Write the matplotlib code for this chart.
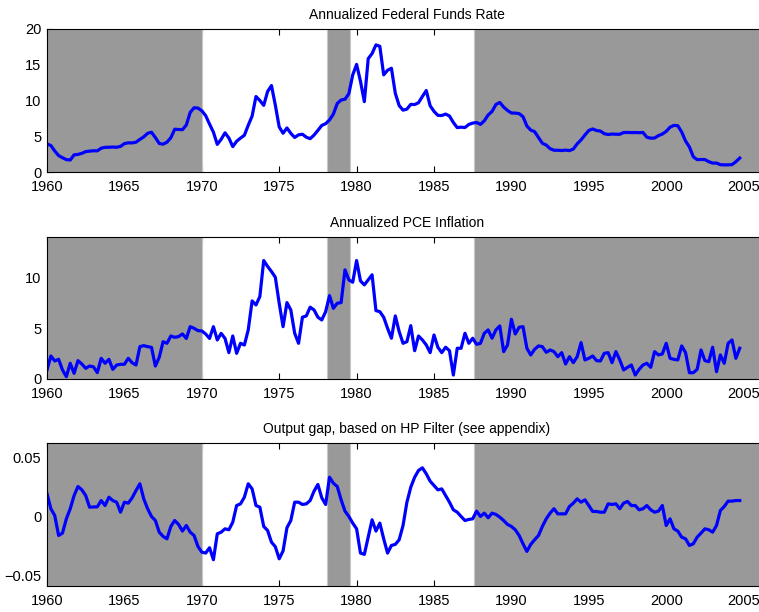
import numpy as np
import matplotlib
matplotlib.use('Agg')
import matplotlib.pyplot as plt

plt.rcParams['font.family'] = ['Liberation Sans', 'DejaVu Sans']

# quarterly data, 1960Q1 .. 2004Q4
start_year = 1960
n_quarters = 180

fed_funds = [
    3.93, 3.70, 2.94, 2.30, 2.00, 1.73, 1.68, 2.40, 2.46, 2.61, 2.85, 2.92,
    2.97, 2.96, 3.33, 3.45, 3.46, 3.49, 3.46, 3.58, 3.97, 4.08, 4.07, 4.17,
    4.56, 4.91, 5.41, 5.56, 4.82, 3.99, 3.89, 4.17, 4.79, 5.98, 5.94, 5.92,
    6.57, 8.33, 8.98, 8.94, 8.57, 7.88, 6.70, 5.57, 3.86, 4.57, 5.48, 4.75,
    3.55, 4.30, 4.74, 5.14, 6.54, 7.82, 10.56, 10.00, 9.32, 11.25, 12.09, 9.35,
    6.30, 5.42, 6.16, 5.41, 4.83, 5.20, 5.28, 4.87, 4.66, 5.16, 5.82, 6.51,
    6.76, 7.28, 8.10, 9.58, 10.07, 10.18, 10.95, 13.58, 15.05, 12.69, 9.84, 15.85,
    16.57, 17.78, 17.58, 13.59, 14.23, 14.51, 11.01, 9.29, 8.65, 8.80, 9.46, 9.43,
    9.69, 10.56, 11.39, 9.27, 8.48, 7.92, 7.90, 8.10, 7.83, 6.92, 6.21, 6.27,
    6.22, 6.65, 6.84, 6.92, 6.66, 7.16, 7.98, 8.47, 9.44, 9.73, 9.08, 8.61,
    8.25, 8.24, 8.16, 7.74, 6.43, 5.86, 5.64, 4.82, 4.02, 3.77, 3.26, 3.04,
    3.04, 3.00, 3.06, 2.99, 3.21, 3.94, 4.49, 5.17, 5.81, 6.02, 5.80, 5.72,
    5.36, 5.24, 5.31, 5.28, 5.28, 5.52, 5.53, 5.51, 5.52, 5.50, 5.53, 4.86,
    4.73, 4.75, 5.09, 5.31, 5.68, 6.27, 6.52, 6.47, 5.59, 4.33, 3.50, 2.13,
    1.73, 1.75, 1.74, 1.44, 1.25, 1.25, 1.02, 1.00, 1.00, 1.03, 1.43, 1.95,
]

pce_inflation = [
    0.90, 2.27, 1.78, 1.94, 0.90, 0.23, 1.55, 0.56, 1.81, 1.48, 1.05, 1.28,
    1.20, 0.63, 2.04, 1.55, 1.94, 0.95, 1.38, 1.45, 1.45, 2.04, 1.60, 1.38,
    3.19, 3.29, 3.19, 3.12, 1.28, 2.14, 3.68, 3.52, 4.24, 4.11, 4.18, 4.44,
    4.00, 5.16, 5.00, 4.77, 4.74, 4.44, 4.00, 5.16, 3.85, 4.50, 4.00, 2.60,
    4.24, 2.53, 3.52, 3.35, 4.84, 7.70, 7.30, 8.13, 11.68, 11.10, 10.60, 10.03,
    7.47, 5.16, 7.53, 6.81, 4.51, 3.52, 6.09, 6.22, 7.08, 6.81, 6.09, 5.82,
    6.64, 8.22, 6.97, 7.47, 7.53, 10.76, 9.77, 9.54, 11.68, 9.67, 9.28, 9.77,
    10.27, 6.74, 6.64, 6.09, 5.00, 4.02, 6.22, 4.67, 3.52, 3.68, 5.26, 2.79,
    4.24, 3.85, 3.36, 2.60, 4.34, 3.13, 2.60, 3.13, 2.79, 0.39, 3.03, 3.03,
    4.51, 3.52, 4.02, 3.42, 3.52, 4.51, 4.84, 4.02, 4.84, 5.23, 2.70, 3.36,
    5.89, 4.44, 5.10, 5.16, 3.03, 2.37, 2.93, 3.26, 3.19, 2.63, 2.86, 2.70,
    2.20, 2.60, 1.48, 2.20, 1.61, 2.20, 3.59, 1.88, 2.04, 2.27, 1.81, 1.78,
    2.53, 2.60, 1.61, 2.70, 1.88, 0.89, 1.15, 1.38, 0.39, 0.95, 1.38, 1.55,
    1.15, 2.70, 2.37, 2.47, 3.52, 2.04, 1.94, 1.88, 3.26, 2.60, 0.62, 0.62,
    0.95, 2.86, 1.81, 1.71, 3.13, 0.72, 2.37, 1.55, 3.52, 3.85, 2.04, 3.03,
]

output_gap = [
    0.0191, 0.0065, 0.0008, -0.0160, -0.0140, -0.0020, 0.0065, 0.0176, 0.0252, 0.0224, 0.0176, 0.0078,
    0.0080, 0.0081, 0.0134, 0.0092, 0.0162, 0.0134, 0.0120, 0.0036, 0.0120, 0.0112, 0.0157, 0.0218,
    0.0275, 0.0148, 0.0065, 0.0000, -0.0034, -0.0132, -0.0168, -0.0188, -0.0084, -0.0034, -0.0067, -0.0123,
    -0.0076, -0.0132, -0.0160, -0.0252, -0.0300, -0.0308, -0.0263, -0.0364, -0.0146, -0.0132, -0.0104, -0.0112,
    -0.0048, 0.0092, 0.0106, 0.0162, 0.0275, 0.0232, 0.0092, 0.0078, -0.0084, -0.0118, -0.0216, -0.0255,
    -0.0356, -0.0290, -0.0095, -0.0034, 0.0120, 0.0120, 0.0101, 0.0106, 0.0134, 0.0213, 0.0269, 0.0157,
    0.0101, 0.0330, 0.0280, 0.0252, 0.0140, 0.0045, 0.0000, -0.0056, -0.0104, -0.0308, -0.0319, -0.0174,
    -0.0028, -0.0123, -0.0056, -0.0188, -0.0308, -0.0244, -0.0235, -0.0196, -0.0076, 0.0120, 0.0246, 0.0330,
    0.0387, 0.0409, 0.0359, 0.0297, 0.0260, 0.0224, 0.0232, 0.0176, 0.0120, 0.0056, 0.0036, 0.0000,
    -0.0034, -0.0025, -0.0020, 0.0045, 0.0000, 0.0028, -0.0011, 0.0028, 0.0017, -0.0006, -0.0034, -0.0067,
    -0.0084, -0.0112, -0.0160, -0.0230, -0.0294, -0.0235, -0.0196, -0.0160, -0.0084, -0.0020, 0.0028, 0.0065,
    0.0022, 0.0022, 0.0022, 0.0084, 0.0112, 0.0148, 0.0120, 0.0140, 0.0092, 0.0042, 0.0042, 0.0036,
    0.0036, 0.0106, 0.0101, 0.0106, 0.0065, 0.0112, 0.0126, 0.0092, 0.0092, 0.0056, 0.0065, 0.0092,
    0.0056, 0.0036, 0.0045, 0.0092, -0.0076, -0.0020, -0.0104, -0.0123, -0.0174, -0.0188, -0.0244, -0.0230,
    -0.0174, -0.0140, -0.0104, -0.0112, -0.0132, -0.0076, 0.0050, 0.0084, 0.0129, 0.0129, 0.0134, 0.0134,
]

titles = ['Annualized Federal Funds Rate',
          'Annualized PCE Inflation',
          'Output gap, based on HP Filter (see appendix)']

# shaded periods
shade_periods = [(1960.0, 1970.0), (1978.1, 1979.6), (1987.6, 2007.0)]

xticks = [1960, 1965, 1970, 1975, 1980, 1985, 1990, 1995, 2000, 2005]

t = start_year + np.arange(n_quarters) / 4.0

fig = plt.figure(figsize=(7.59, 6.12), dpi=100)

W, H = 759.0, 612.0
left = 47 / W
width = (15.48 * 46.5) / W
# (top px, bottom px) of each panel
boxes = [(29, 172), (237, 379), (443, 586)]

series = [fed_funds, pce_inflation, output_gap]
ylims = [(0, 20), (0, 14), (-0.0585, 0.0618)]
yticks = [[0, 5, 10, 15, 20], [0, 5, 10], [-0.05, 0, 0.05]]
yticklabels = [['0', '5', '10', '15', '20'], ['0', '5', '10'],
               ['\u22120.05', '0', '0.05']]

for i in range(3):
    top, bot = boxes[i]
    ax = fig.add_axes([left, 1 - bot / H, width, (bot - top) / H])
    for a, b in shade_periods:
        ax.axvspan(a, b, facecolor='#999999', edgecolor='#c8c8c8',
                   linewidth=0.8, zorder=1)
    ax.plot(t, series[i], color='#0000ff', linewidth=2.3, zorder=3)
    ax.set_xlim(1960, 2006.5)
    ax.set_ylim(ylims[i])
    ax.set_xticks(xticks)
    ax.set_xticklabels([str(x) for x in xticks])
    ax.set_yticks(yticks[i])
    ax.set_yticklabels(yticklabels[i])
    ax.set_axisbelow(True)
    ax.tick_params(direction='in', top=True, right=True, length=4,
                   width=0.8, labelsize=10.5)
    ax.tick_params(axis='x', pad=6)
    ax.tick_params(axis='y', pad=4)
    for s in ax.spines.values():
        s.set_linewidth(0.8)
        s.set_zorder(4)
    ax.set_title(titles[i], fontsize=10, pad=7)

fig.savefig('out.png', dpi=100)
